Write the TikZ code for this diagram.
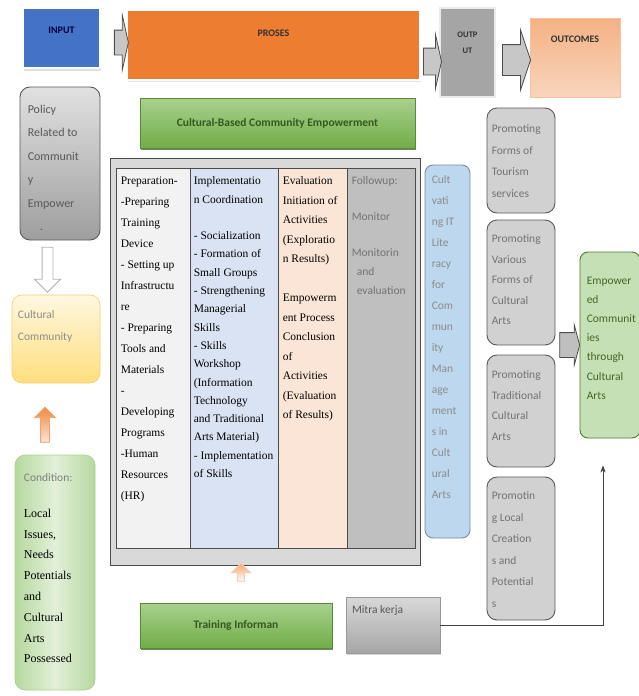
\documentclass[tikz,border=0pt]{standalone}
\usepackage{fontspec}
\setmainfont{Liberation Serif}
\setsansfont{Carlito}
\usepackage{xcolor}
\usetikzlibrary{arrows.meta,shapes.arrows,shadows,calc}

\definecolor{inblue}{HTML}{4472C4}
\definecolor{prorange}{HTML}{ED7D31}
\definecolor{outgray}{HTML}{A5A5A5}
\definecolor{peachA}{HTML}{F4B183}
\definecolor{peachB}{HTML}{FBE5D6}
\definecolor{grnA}{HTML}{70AD47}
\definecolor{grnB}{HTML}{A9D18E}
\definecolor{grnC}{HTML}{E2F0D9}
\definecolor{grnD}{HTML}{385723}
\definecolor{ylwA}{HTML}{FFF2CC}
\definecolor{ylwB}{HTML}{FFD966}
\definecolor{colA}{HTML}{F2F2F2}
\definecolor{colB}{HTML}{DAE3F3}
\definecolor{colC}{HTML}{FBE5D6}
\definecolor{colD}{HTML}{BFBFBF}
\definecolor{litblue}{HTML}{BDD7EE}
\definecolor{empgrn}{HTML}{C5E0B4}

\begin{document}
\begin{tikzpicture}[
    x=1pt, y=-1pt,
    font=\sffamily,
    >=Stealth,
    hdr/.style={inner sep=0pt},
    toplbl/.style={anchor=north, yshift=#1, align=center,
                   font=\sffamily\fontsize{10}{11}\selectfont\bfseries},
    rbox/.style={draw=black!65, line width=0.9pt, rounded corners=10pt,
                 inner sep=0pt},
    txt/.style={anchor=north west, align=left, inner sep=0pt,
                text=black!55, font=\sffamily\fontsize{11.5}{#1}\selectfont},
    col/.style={draw=black!70, line width=0.8pt, inner sep=0pt,
                minimum height=380pt},
    coltxt/.style={anchor=north west, align=left, inner sep=0pt,
                   xshift=5pt, yshift=-9pt,
                   font=\rmfamily\fontsize{11.5}{#1}\selectfont},
    gbar/.style={draw=grnA!80!black, top color=grnB, bottom color=grnA,
                 inner sep=0pt, text=grnD,
                 font=\sffamily\fontsize{11.5}{13}\selectfont\bfseries,
                 drop shadow={shadow xshift=1pt, shadow yshift=-2pt,
                              fill=grnD, opacity=.7}},
    blockarr/.style={single arrow, draw=black!70, fill=black!22,
                     inner xsep=0pt, line width=0.8pt},
]

%% ── Bounding box ────────────────────────────────────────────────────────────
\useasboundingbox (0,0) rectangle (638,696);

%% ── Top row: INPUT, PROSES, OUTPUT, OUTCOMES ────────────────────────────────
\node[hdr, fill=inblue, draw=white, line width=2.5pt,
      minimum width=77pt, minimum height=60pt,
      drop shadow={shadow xshift=1pt, shadow yshift=-3pt, opacity=.25},
      label={[toplbl=-17pt, text=black!75!blue]north:INPUT}]
      (input) at (61.5,38) {};
\node[hdr, fill=prorange, draw=white, line width=2pt,
      minimum width=293pt, minimum height=70pt,
      drop shadow={shadow xshift=1pt, shadow yshift=-2pt, opacity=.2},
      label={[toplbl=-17pt, text=black!80]north:PROSES}]
      (proses) at (273.5,45) {};
\node[hdr, fill=outgray, draw=black!8, line width=2pt,
      minimum width=55pt, minimum height=89pt,
      label={[toplbl=-21pt, text=black!80,
              font=\sffamily\fontsize{8.5}{16}\selectfont\bfseries]north:{OUTP\\UT}}]
      (output) at (467.5,52.5) {};
\node[hdr, top color=peachA, bottom color=peachB!70!peachA,
      draw=peachA!80, line width=0.6pt,
      minimum width=90pt, minimum height=79pt,
      label={[toplbl=-15pt, text=black!80]north:OUTCOMES}]
      (outcomes) at (575,57.5) {};

\node[blockarr, minimum height=14pt, inner ysep=12pt,
      single arrow head extend=15pt, single arrow tip angle=155]
      (arrIP) at (120,42.5) {};
\node[blockarr, minimum height=18pt, inner ysep=13pt,
      single arrow head extend=13.5pt, single arrow tip angle=155]
      (arrPO) at (431,61.5) {};
\node[blockarr, minimum height=28pt, inner ysep=15pt,
      single arrow head extend=15pt, single arrow tip angle=143]
      (arrOO) at (514,60) {};

%% ── Left rail: Policy, Cultural Community, Condition ────────────────────────
\node[rbox, top color=black!12, bottom color=black!38,
      minimum width=80pt, minimum height=153pt,
      label={[txt=23.5, text=black!65, xshift=8pt, yshift=-18pt,
              font=\sffamily\fontsize{12}{23.5}\selectfont]north west:{%
             Policy\\Related to\\Communit\\y\\Empower\\\kern12pt.}}]
      (policy) at (60,163.5) {};
\node[blockarr, draw=black!30, fill=white, rotate=-90,
      minimum height=45pt, inner ysep=5pt, single arrow head extend=7.5pt]
      (arrPC) at (47.5,267) {};
\node[rbox, draw=ylwB!70!peachA, line width=0.6pt,
      top color=ylwA!60, bottom color=ylwB!85,
      minimum width=88pt, minimum height=88pt,
      label={[txt=22, text=black!45, xshift=6pt, yshift=-16pt]north west:{%
             Cultural\\Community}}]
      (culcomm) at (56,339) {};
\node[blockarr, draw=prorange!70, top color=prorange!90, bottom color=peachB,
      rotate=90, minimum height=35pt, inner ysep=4pt,
      single arrow head extend=6pt]
      (arrCC) at (45,427) {};
\node[rbox, draw=grnB, line width=0.6pt,
      left color=grnB!85, right color=grnB!85, middle color=grnC,
      minimum width=80pt, minimum height=235pt,
      label={[txt=20.8, text=black!50, xshift=9pt, yshift=-19pt]north west:{%
             Condition:}}]
      (condition) at (55,572.5) {};
\node[anchor=north west, align=left, inner sep=0pt,
      font=\rmfamily\fontsize{12}{20.8}\selectfont]
      (condtxt) at ($(condition.north west)+(9,54)$)
      {Local\\Issues,\\Needs\\Potentials\\and\\Cultural\\Arts\\Possessed};

%% ── Middle: Cultural-Based Community Empowerment and its four stages ────────
\node[gbar, minimum width=275pt, minimum height=50pt]
      (cbce) at (277.5,123) {Cultural-Based Community Empowerment};

\node[draw=black!70, line width=1pt, fill=black!15,
      minimum width=310pt, minimum height=407pt]
      (frame) at (265,361.5) {};

\node[col, fill=colA, minimum width=74pt,
      label={[coltxt=21]north west:{%
             Preparation-\\-Preparing\\Training\\Device\\- Setting up\\
             Infrastructu\\re\\- Preparing\\Tools and\\Materials\\-\\
             Developing\\Programs\\-Human\\Resources\\(HR)}}]
      (prep) at (153,358) {};
\node[col, fill=colB, minimum width=88pt,
      label={[coltxt=18.3, xshift=-1pt]north west:{%
             Implementatio\\n Coordination\\[18.3pt]
             - Socialization\\- Formation of\\Small Groups\\
             - Strengthening\\Managerial\\Skills\\- Skills\\Workshop\\
             (Information\\Technology\\and Traditional\\Arts Material)\\
             - Implementation\\of Skills}}]
      (impl) at (234,358) {};
\node[col, fill=colC, minimum width=69pt,
      label={[coltxt=19.5]north west:{%
             Evaluation\\Initiation of\\Activities\\(Exploratio\\n Results)\\[19.5pt]
             Empowerm\\ent Process\\Conclusion\\of\\Activities\\
             (Evaluation\\of Results)}}]
      (eval) at (312.5,358) {};
\node[col, fill=colD, minimum width=68pt,
      label={[txt=19, text=black!55, xshift=5pt, yshift=-9pt]north west:{%
             Followup:\\[17pt]Monitor\\[17pt]Monitorin\\
             \kern5pt and\\\kern5pt evaluation}}]
      (follow) at (381,358) {};

\node[blockarr, draw=prorange!40, top color=prorange!70, bottom color=white,
      rotate=90, minimum height=18pt, inner ysep=3pt,
      single arrow head extend=6pt]
      (arrTF) at (241,574) {};

%% ── Bottom: Training and Mitra kerja ────────────────────────────────────────
\node[gbar, minimum width=192pt, minimum height=45pt]
      (training) at (236,625.5) {Training Informan};
\node[draw=black!40, top color=black!15, bottom color=black!35,
      minimum width=94pt, minimum height=56pt, inner sep=0pt,
      drop shadow={shadow xshift=1pt, shadow yshift=-2pt, opacity=.3},
      label={[txt=12, text=black!65, xshift=6pt, yshift=-9pt]north west:{%
             Mitra kerja}}]
      (mitra) at (393,625) {};

%% ── Right side: literacy, promoting boxes, outcome ──────────────────────────
\node[rbox, rounded corners=8pt, fill=litblue, draw=black!35!litblue,
      minimum width=45pt, minimum height=373pt,
      label={[txt=21, text=black!45, xshift=7pt, yshift=-11pt]north west:{%
             Cult\\vati\\ng IT\\Lite\\racy\\for\\Com\\mun\\ity\\Man\\age\\
             ment\\s in\\Cult\\ural\\Arts}}]
      (literacy) at (447.5,351.5) {};

\node[rbox, fill=black!18, minimum width=68pt, minimum height=105pt,
      label={[txt=21.5, xshift=5pt, yshift=-17pt]north west:{%
             Promoting\\Forms of\\Tourism\\services}}]
      (promA) at (521,160.5) {};
\node[rbox, fill=black!18, minimum width=68pt, minimum height=125pt,
      label={[txt=20.5, xshift=5pt, yshift=-15pt]north west:{%
             Promoting\\Various\\Forms of\\Cultural\\Arts}}]
      (promB) at (521,282.5) {};
\node[rbox, fill=black!18, minimum width=68pt, minimum height=112pt,
      label={[txt=20.5, xshift=5pt, yshift=-16pt]north west:{%
             Promoting\\Traditional\\Cultural\\Arts}}]
      (promC) at (521,411) {};
\node[rbox, fill=black!18, minimum width=68pt, minimum height=143pt,
      label={[txt=21.5, xshift=5pt, yshift=-15pt]north west:{%
             Promotin\\g Local\\Creation\\s and\\Potential\\s}}]
      (promD) at (521,548.5) {};

\node[blockarr, fill=black!25, minimum height=20pt, inner ysep=12pt,
      single arrow head extend=8pt, single arrow tip angle=150]
      (arrPE) at (568,345) {};

\node[rbox, rounded corners=8pt, fill=empgrn, draw=grnA!70!black,
      minimum width=60pt, minimum height=186pt,
      label={[txt=19.2, text=grnA!60!black, xshift=7pt, yshift=-25pt]north west:{%
             Empower\\ed\\Communit\\ies\\through\\Cultural\\Arts}}]
      (emp) at (610,345) {};

%% ── Connector: Mitra kerja to Empowered Communities ─────────────────────────
\coordinate (empin) at ($(emp.south)+(-7,27)$);
\draw[->, black!75, line width=0.9pt] (mitra.east) -| (empin);

\end{tikzpicture}
\end{document}
